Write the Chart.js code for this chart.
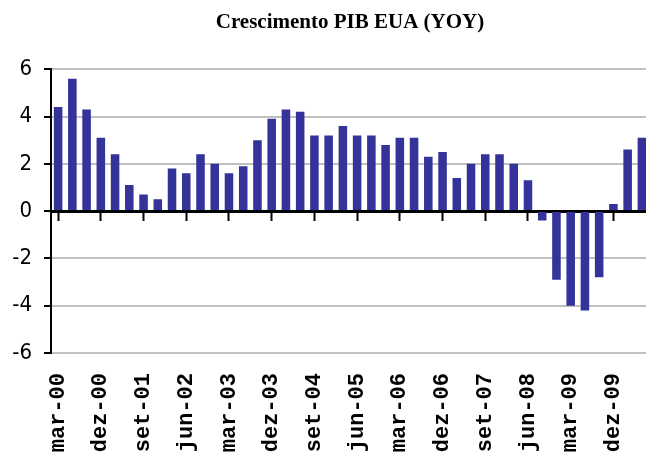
<!DOCTYPE html>
<html>
<head>
<meta charset="utf-8">
<script src="https://cdn.jsdelivr.net/npm/chart.js@4"></script>
<style>
  html, body { margin: 0; padding: 0; background: #fff; overflow: hidden; }
  canvas { display: block; }
</style>
</head>
<body>
<canvas id="c" width="649" height="461"></canvas>
<script>
const categories = [
  'mar-00','jun-00','set-00','dez-00',
  'mar-01','jun-01','set-01','dez-01',
  'mar-02','jun-02','set-02','dez-02',
  'mar-03','jun-03','set-03','dez-03',
  'mar-04','jun-04','set-04','dez-04',
  'mar-05','jun-05','set-05','dez-05',
  'mar-06','jun-06','set-06','dez-06',
  'mar-07','jun-07','set-07','dez-07',
  'mar-08','jun-08','set-08','dez-08',
  'mar-09','jun-09','set-09','dez-09',
  'mar-10','jun-10'
];
const gdpYoY = [
  4.4, 5.6, 4.3, 3.1,
  2.4, 1.1, 0.7, 0.5,
  1.8, 1.6, 2.4, 2.0,
  1.6, 1.9, 3.0, 3.9,
  4.3, 4.2, 3.2, 3.2,
  3.6, 3.2, 3.2, 2.8,
  3.1, 3.1, 2.3, 2.5,
  1.4, 2.0, 2.4, 2.4,
  2.0, 1.3, -0.4, -2.9,
  -4.0, -4.2, -2.8, 0.3,
  2.6, 3.1
];
const yTicks = [-6, -4, -2, 0, 2, 4, 6];
const labelStep = 3;
const titleText = 'Crescimento PIB EUA (YOY)';

new Chart(document.getElementById('c'), {
  type: 'bar',
  data: {
    labels: categories,
    datasets: [{
      data: gdpYoY,
      backgroundColor: '#333399',
      borderWidth: 0,
      barPercentage: 0.6,
      categoryPercentage: 1.0,
      xAxisID: 'x',
      yAxisID: 'y'
    }]
  },
  options: {
    responsive: false,
    animation: false,
    devicePixelRatio: 1,
    layout: { padding: { left: 0, right: 0, top: 0, bottom: 0 } },
    plugins: {
      legend: { display: false },
      tooltip: { enabled: false },
      title: {
        display: true,
        text: titleText,
        fullSize: false,
        color: '#000',
        font: { family: "'Liberation Serif', 'Times New Roman', serif", size: 21, weight: 'bold' },
        padding: { top: 10, bottom: 34 }
      }
    },
    scales: {
      x: {
        type: 'category',
        position: 'bottom',
        offset: true,
        grid: { display: false, drawTicks: false },
        border: { display: false },
        afterFit: (s) => { s.height = 108; s.paddingLeft = 0; s.paddingRight = 0; },
        ticks: {
          autoSkip: false,
          minRotation: 90,
          maxRotation: 90,
          padding: 20,
          color: '#000',
          font: { family: "'Liberation Mono', 'Courier New', monospace", size: 22, weight: 'bold' },
          callback: function (v, i) { return i % labelStep === 0 ? categories[i] : ''; }
        }
      },
      x2: {
        type: 'category',
        labels: categories,
        position: { y: 0 },
        offset: true,
        z: 1,
        afterFit: (s) => { s.paddingLeft = 0; s.paddingRight = 0; },
        grid: {
          display: true,
          drawOnChartArea: false,
          drawTicks: true,
          tickLength: 8,
          tickWidth: 2,
          offset: false,
          tickColor: (ctx) => (ctx.index % labelStep === 0 ? '#000' : 'rgba(0,0,0,0)')
        },
        border: { display: true, color: '#000', width: 3 },
        ticks: { display: false }
      },
      y: {
        type: 'linear',
        min: -6,
        max: 6,
        afterFit: (s) => { s.width = 51; },
        afterBuildTicks: (s) => { s.ticks = yTicks.map(v => ({ value: v })); },
        grid: {
          color: (ctx) => (ctx.tick && ctx.tick.value === 0 ? '#000' : '#c0c0c0'),
          lineWidth: 2,
          drawTicks: true,
          tickLength: 7,
          tickColor: '#000',
          tickWidth: 2
        },
        border: { display: true, color: '#000', width: 2 },
        ticks: {
          padding: 12,
          color: '#000',
          font: { family: "'Liberation Sans Narrow', 'DejaVu Sans Condensed', sans-serif", size: 22 }
        }
      }
    }
  }
});
</script>
</body>
</html>
